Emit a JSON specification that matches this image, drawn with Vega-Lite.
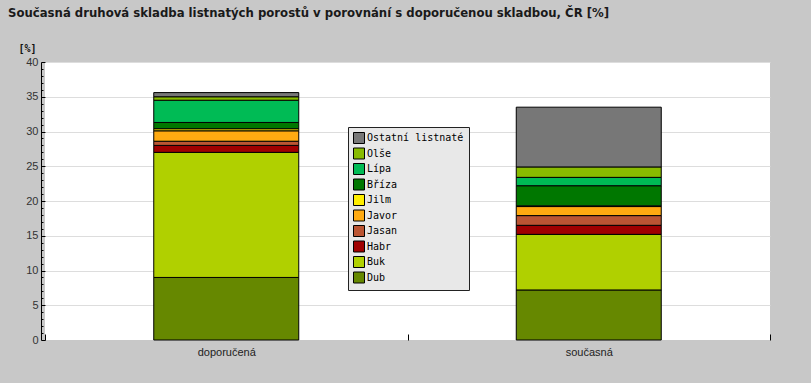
{
  "$schema": "https://vega.github.io/schema/vega-lite/v6.json",
  "width": 725,
  "height": 278,
  "autosize": {"type": "none"},
  "padding": {"left": 45, "top": 62, "right": 41, "bottom": 43},
  "background": "#C8C8C8",
  "title": {
    "text": "Současná druhová skladba listnatých porostů v porovnání s doporučenou skladbou, ČR [%]",
    "anchor": "start",
    "frame": "group",
    "font": "DejaVu Sans Condensed",
    "fontSize": 13,
    "fontWeight": "bold",
    "color": "#1a1a1a",
    "dx": -37,
    "offset": 23
  },
  "config": {
    "view": {"fill": "white", "stroke": null}
  },
  "data": {
    "values": [
      {"skladba": "doporučená", "drevina": "Dub", "i": 1, "podil": 9.0},
      {"skladba": "doporučená", "drevina": "Buk", "i": 2, "podil": 18.0},
      {"skladba": "doporučená", "drevina": "Habr", "i": 3, "podil": 1.0},
      {"skladba": "doporučená", "drevina": "Jasan", "i": 4, "podil": 0.6},
      {"skladba": "doporučená", "drevina": "Javor", "i": 5, "podil": 1.5},
      {"skladba": "doporučená", "drevina": "Jilm", "i": 6, "podil": 0.3},
      {"skladba": "doporučená", "drevina": "Bříza", "i": 7, "podil": 0.9},
      {"skladba": "doporučená", "drevina": "Lípa", "i": 8, "podil": 3.2},
      {"skladba": "doporučená", "drevina": "Olše", "i": 9, "podil": 0.5},
      {"skladba": "doporučená", "drevina": "Ostatní listnaté", "i": 10, "podil": 0.6},
      {"skladba": "současná", "drevina": "Dub", "i": 1, "podil": 7.2},
      {"skladba": "současná", "drevina": "Buk", "i": 2, "podil": 8.0},
      {"skladba": "současná", "drevina": "Habr", "i": 3, "podil": 1.3},
      {"skladba": "současná", "drevina": "Jasan", "i": 4, "podil": 1.4},
      {"skladba": "současná", "drevina": "Javor", "i": 5, "podil": 1.3},
      {"skladba": "současná", "drevina": "Jilm", "i": 6, "podil": 0.1},
      {"skladba": "současná", "drevina": "Bříza", "i": 7, "podil": 2.9},
      {"skladba": "současná", "drevina": "Lípa", "i": 8, "podil": 1.2},
      {"skladba": "současná", "drevina": "Olše", "i": 9, "podil": 1.5},
      {"skladba": "současná", "drevina": "Ostatní listnaté", "i": 10, "podil": 8.6}
    ]
  },
  "mark": {"type": "bar", "stroke": "black", "strokeWidth": 1, "width": {"band": 0.4}},
  "encoding": {
    "x": {
      "field": "skladba",
      "type": "nominal",
      "sort": ["doporučená", "současná"],
      "scale": {"paddingInner": 0, "paddingOuter": 0},
      "axis": {
        "title": null,
        "labelAngle": 0,
        "domain": false,
        "tickBand": "extent",
        "tickColor": "black",
        "tickSize": -6,
        "labelPadding": 12,
        "labelFont": "Liberation Sans",
        "labelFontSize": 11,
        "labelColor": "#222222"
      }
    },
    "y": {
      "field": "podil",
      "type": "quantitative",
      "stack": "zero",
      "scale": {"domain": [0, 40], "nice": false},
      "axis": {
        "title": "[%]",
        "titleAngle": 0,
        "titleX": -23,
        "titleY": -9,
        "titleAlign": "left",
        "titleBaseline": "bottom",
        "titleFont": "DejaVu Sans Mono",
        "titleFontSize": 10,
        "titleFontWeight": "bold",
        "titleColor": "#111111",
        "values": [0,1,2,3,4,5,6,7,8,9,10,11,12,13,14,15,16,17,18,19,20,21,22,23,24,25,26,27,28,29,30,31,32,33,34,35,36,37,38,39,40],
        "labelExpr": "datum.value % 5 === 0 ? datum.label : ''",
        "offset": 4,
        "domainColor": "black",
        "tickColor": "black",
        "tickSize": {"condition": {"test": "datum.value % 5 === 0", "value": -4}, "value": -2},
        "labelPadding": 7,
        "labelFont": "Liberation Sans",
        "labelFontSize": 11,
        "labelColor": "#333333",
        "grid": true,
        "gridColor": "#DDDDDD",
        "gridOpacity": {"condition": {"test": "datum.value % 5 === 0 && datum.value > 0", "value": 1}, "value": 0}
      }
    },
    "color": {
      "field": "drevina",
      "type": "nominal",
      "scale": {
        "domain": ["Ostatní listnaté", "Olše", "Lípa", "Bříza", "Jilm", "Javor", "Jasan", "Habr", "Buk", "Dub"],
        "range": ["#777777", "#88BB00", "#00BB55", "#007700", "#FFEE00", "#FFAA11", "#BB5533", "#A00000", "#B0D000", "#668800"]
      },
      "legend": {
        "title": null,
        "orient": "none",
        "legendX": 303,
        "legendY": 65,
        "fillColor": "#E8E8E8",
        "strokeColor": "#222222",
        "padding": 5,
        "symbolType": "square",
        "symbolSize": 121,
        "symbolStrokeColor": "black",
        "symbolStrokeWidth": 1,
        "symbolOpacity": 1,
        "labelFont": "DejaVu Sans Mono",
        "labelFontSize": 10,
        "labelColor": "black",
        "labelOffset": 2,
        "rowPadding": -0.5
      }
    },
    "order": {"field": "i", "type": "quantitative", "sort": "ascending"}
  }
}
